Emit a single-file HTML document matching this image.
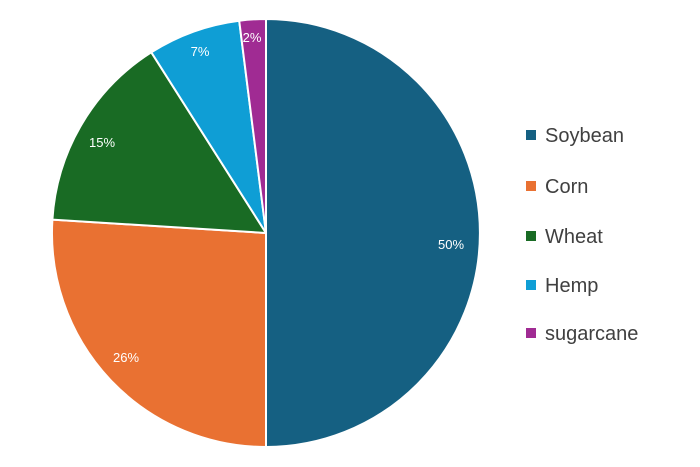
<!DOCTYPE html>
<html><head><meta charset="utf-8"><style>
body{margin:0;background:#fff;}
svg{display:block;font-family:"Liberation Sans",Arial,sans-serif;}
</style></head><body>
<svg width="700" height="467" viewBox="0 0 700 467" xmlns="http://www.w3.org/2000/svg">
<g stroke="#fff" stroke-width="2" stroke-linejoin="round">
<path d="M266,233 L266,19 A214,214 0 0 1 266,447 Z" fill="#156082"/>
<path d="M266,233 L266,447 A214,214 0 0 1 52.4,219.6 Z" fill="#e97132"/>
<path d="M266,233 L52.4,219.6 A214,214 0 0 1 151.3,52.3 Z" fill="#196b24"/>
<path d="M266,233 L151.3,52.3 A214,214 0 0 1 239.2,20.7 Z" fill="#0f9ed5"/>
<path d="M266,233 L239.2,20.7 A214,214 0 0 1 266,19 Z" fill="#a02b93"/>
</g>
<g fill="#fff" font-size="13" text-anchor="middle">
<text x="451" y="249">50%</text>
<text x="126" y="362">26%</text>
<text x="102" y="147">15%</text>
<text x="200" y="56">7%</text>
<text x="252" y="42">2%</text>
</g>
<g font-size="20" fill="#404040">
<rect x="526" y="130" width="10" height="10" fill="#156082"/><text x="545" y="142">Soybean</text>
<rect x="526" y="181" width="10" height="10" fill="#e97132"/><text x="545" y="193">Corn</text>
<rect x="526" y="231" width="10" height="10" fill="#196b24"/><text x="545" y="243">Wheat</text>
<rect x="526" y="280" width="10" height="10" fill="#0f9ed5"/><text x="545" y="292">Hemp</text>
<rect x="526" y="328" width="10" height="10" fill="#a02b93"/><text x="545" y="340">sugarcane</text>
</g>
</svg>
</body></html>
